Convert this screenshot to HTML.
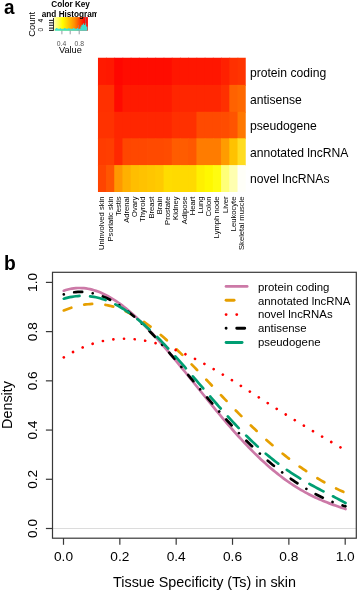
<!DOCTYPE html><html><head><meta charset="utf-8"><style>html,body{margin:0;padding:0;background:#fff;}svg{display:block;will-change:transform;}text{font-family:"Liberation Sans", sans-serif;}</style></head><body>
<svg width="358" height="591" viewBox="0 0 358 591">
<rect width="358" height="591" fill="#fff"/>
<text transform="translate(3.9,14.4) scale(0.9,1)" font-size="21" font-weight="bold" fill="#000">a</text>
<text transform="translate(3.9,270) scale(0.92,1)" font-size="21" font-weight="bold" fill="#000">b</text>
<defs><clipPath id="hmclip"><rect x="97.80" y="57.50" width="147.95" height="134.50"/></clipPath></defs><g clip-path="url(#hmclip)">
<rect x="97.80" y="57.50" width="9.02" height="28.20" fill="#FF1A00"/>
<rect x="106.02" y="57.50" width="9.02" height="28.20" fill="#FF1800"/>
<rect x="114.24" y="57.50" width="9.02" height="28.20" fill="#FF0600"/>
<rect x="122.46" y="57.50" width="9.02" height="28.20" fill="#FF0C00"/>
<rect x="130.68" y="57.50" width="9.02" height="28.20" fill="#FF0C00"/>
<rect x="138.90" y="57.50" width="9.02" height="28.20" fill="#FF0C00"/>
<rect x="147.12" y="57.50" width="9.02" height="28.20" fill="#FF0C00"/>
<rect x="155.34" y="57.50" width="9.02" height="28.20" fill="#FF0C00"/>
<rect x="163.56" y="57.50" width="9.02" height="28.20" fill="#FF0C00"/>
<rect x="171.77" y="57.50" width="9.02" height="28.20" fill="#FF1600"/>
<rect x="179.99" y="57.50" width="9.02" height="28.20" fill="#FF1600"/>
<rect x="188.21" y="57.50" width="9.02" height="28.20" fill="#FF1600"/>
<rect x="196.43" y="57.50" width="9.02" height="28.20" fill="#FF1600"/>
<rect x="204.65" y="57.50" width="9.02" height="28.20" fill="#FF1600"/>
<rect x="212.87" y="57.50" width="9.02" height="28.20" fill="#FF1600"/>
<rect x="221.09" y="57.50" width="9.02" height="28.20" fill="#FF2000"/>
<rect x="229.31" y="57.50" width="9.02" height="28.20" fill="#FF3000"/>
<rect x="237.53" y="57.50" width="9.02" height="28.20" fill="#FF3400"/>
<rect x="97.80" y="84.90" width="9.02" height="27.70" fill="#FF3000"/>
<rect x="106.02" y="84.90" width="9.02" height="27.70" fill="#FF3000"/>
<rect x="114.24" y="84.90" width="9.02" height="27.70" fill="#FF0A00"/>
<rect x="122.46" y="84.90" width="9.02" height="27.70" fill="#FF1A00"/>
<rect x="130.68" y="84.90" width="9.02" height="27.70" fill="#FF1A00"/>
<rect x="138.90" y="84.90" width="9.02" height="27.70" fill="#FF1A00"/>
<rect x="147.12" y="84.90" width="9.02" height="27.70" fill="#FF1A00"/>
<rect x="155.34" y="84.90" width="9.02" height="27.70" fill="#FF1A00"/>
<rect x="163.56" y="84.90" width="9.02" height="27.70" fill="#FF1A00"/>
<rect x="171.77" y="84.90" width="9.02" height="27.70" fill="#FF2600"/>
<rect x="179.99" y="84.90" width="9.02" height="27.70" fill="#FF2600"/>
<rect x="188.21" y="84.90" width="9.02" height="27.70" fill="#FF2600"/>
<rect x="196.43" y="84.90" width="9.02" height="27.70" fill="#FF2600"/>
<rect x="204.65" y="84.90" width="9.02" height="27.70" fill="#FF2600"/>
<rect x="212.87" y="84.90" width="9.02" height="27.70" fill="#FF2600"/>
<rect x="221.09" y="84.90" width="9.02" height="27.70" fill="#FF3000"/>
<rect x="229.31" y="84.90" width="9.02" height="27.70" fill="#FF6200"/>
<rect x="237.53" y="84.90" width="9.02" height="27.70" fill="#FF6800"/>
<rect x="97.80" y="111.80" width="9.02" height="27.30" fill="#FF3200"/>
<rect x="106.02" y="111.80" width="9.02" height="27.30" fill="#FF3200"/>
<rect x="114.24" y="111.80" width="9.02" height="27.30" fill="#FF2600"/>
<rect x="122.46" y="111.80" width="9.02" height="27.30" fill="#FF2600"/>
<rect x="130.68" y="111.80" width="9.02" height="27.30" fill="#FF2600"/>
<rect x="138.90" y="111.80" width="9.02" height="27.30" fill="#FF2600"/>
<rect x="147.12" y="111.80" width="9.02" height="27.30" fill="#FF2600"/>
<rect x="155.34" y="111.80" width="9.02" height="27.30" fill="#FF2600"/>
<rect x="163.56" y="111.80" width="9.02" height="27.30" fill="#FF2600"/>
<rect x="171.77" y="111.80" width="9.02" height="27.30" fill="#FF3000"/>
<rect x="179.99" y="111.80" width="9.02" height="27.30" fill="#FF3000"/>
<rect x="188.21" y="111.80" width="9.02" height="27.30" fill="#FF3000"/>
<rect x="196.43" y="111.80" width="9.02" height="27.30" fill="#FF4A00"/>
<rect x="204.65" y="111.80" width="9.02" height="27.30" fill="#FF4A00"/>
<rect x="212.87" y="111.80" width="9.02" height="27.30" fill="#FF4A00"/>
<rect x="221.09" y="111.80" width="9.02" height="27.30" fill="#FF4C00"/>
<rect x="229.31" y="111.80" width="9.02" height="27.30" fill="#FF5400"/>
<rect x="237.53" y="111.80" width="9.02" height="27.30" fill="#FF7800"/>
<rect x="97.80" y="138.30" width="9.02" height="27.60" fill="#FF3C00"/>
<rect x="106.02" y="138.30" width="9.02" height="27.60" fill="#FF3E00"/>
<rect x="114.24" y="138.30" width="9.02" height="27.60" fill="#FF2800"/>
<rect x="122.46" y="138.30" width="9.02" height="27.60" fill="#FF4600"/>
<rect x="130.68" y="138.30" width="9.02" height="27.60" fill="#FF4800"/>
<rect x="138.90" y="138.30" width="9.02" height="27.60" fill="#FF4800"/>
<rect x="147.12" y="138.30" width="9.02" height="27.60" fill="#FF4A00"/>
<rect x="155.34" y="138.30" width="9.02" height="27.60" fill="#FF4A00"/>
<rect x="163.56" y="138.30" width="9.02" height="27.60" fill="#FF4C00"/>
<rect x="171.77" y="138.30" width="9.02" height="27.60" fill="#FF5C00"/>
<rect x="179.99" y="138.30" width="9.02" height="27.60" fill="#FF5C00"/>
<rect x="188.21" y="138.30" width="9.02" height="27.60" fill="#FF5800"/>
<rect x="196.43" y="138.30" width="9.02" height="27.60" fill="#FF7C00"/>
<rect x="204.65" y="138.30" width="9.02" height="27.60" fill="#FF7C00"/>
<rect x="212.87" y="138.30" width="9.02" height="27.60" fill="#FF7C00"/>
<rect x="221.09" y="138.30" width="9.02" height="27.60" fill="#FF9C00"/>
<rect x="229.31" y="138.30" width="9.02" height="27.60" fill="#FFC200"/>
<rect x="237.53" y="138.30" width="9.02" height="27.60" fill="#FFDC20"/>
<rect x="97.80" y="165.10" width="9.02" height="27.70" fill="#FF4400"/>
<rect x="106.02" y="165.10" width="9.02" height="27.70" fill="#FF5600"/>
<rect x="114.24" y="165.10" width="9.02" height="27.70" fill="#FF9800"/>
<rect x="122.46" y="165.10" width="9.02" height="27.70" fill="#FFB000"/>
<rect x="130.68" y="165.10" width="9.02" height="27.70" fill="#FFBE00"/>
<rect x="138.90" y="165.10" width="9.02" height="27.70" fill="#FFC200"/>
<rect x="147.12" y="165.10" width="9.02" height="27.70" fill="#FFC600"/>
<rect x="155.34" y="165.10" width="9.02" height="27.70" fill="#FFCA00"/>
<rect x="163.56" y="165.10" width="9.02" height="27.70" fill="#FFDC00"/>
<rect x="171.77" y="165.10" width="9.02" height="27.70" fill="#FFDA00"/>
<rect x="179.99" y="165.10" width="9.02" height="27.70" fill="#FFDA00"/>
<rect x="188.21" y="165.10" width="9.02" height="27.70" fill="#FFDA00"/>
<rect x="196.43" y="165.10" width="9.02" height="27.70" fill="#FFF000"/>
<rect x="204.65" y="165.10" width="9.02" height="27.70" fill="#FFF800"/>
<rect x="212.87" y="165.10" width="9.02" height="27.70" fill="#FFFC10"/>
<rect x="221.09" y="165.10" width="9.02" height="27.70" fill="#FFFF78"/>
<rect x="229.31" y="165.10" width="9.02" height="27.70" fill="#FFFFB0"/>
<rect x="237.53" y="165.10" width="9.02" height="27.70" fill="#FFFFF8"/>
</g>
<text x="249.9" y="72.60" font-size="12.15" fill="#000" dominant-baseline="central">protein coding</text>
<text x="249.9" y="99.75" font-size="12.15" fill="#000" dominant-baseline="central">antisense</text>
<text x="249.9" y="126.45" font-size="12.15" fill="#000" dominant-baseline="central">pseudogene</text>
<text x="249.9" y="152.70" font-size="12.15" fill="#000" dominant-baseline="central">annotated lncRNA</text>
<text x="249.9" y="179.05" font-size="12.15" fill="#000" dominant-baseline="central">novel lncRNAs</text>
<text transform="translate(101.81,196.5) rotate(-90)" font-size="7.65" fill="#000" text-anchor="end" dominant-baseline="central">Uninvolved skin</text>
<text transform="translate(110.03,196.5) rotate(-90)" font-size="7.65" fill="#000" text-anchor="end" dominant-baseline="central">Psoriatic skin</text>
<text transform="translate(118.25,196.5) rotate(-90)" font-size="7.65" fill="#000" text-anchor="end" dominant-baseline="central">Testis</text>
<text transform="translate(126.47,196.5) rotate(-90)" font-size="7.65" fill="#000" text-anchor="end" dominant-baseline="central">Adrenal</text>
<text transform="translate(134.69,196.5) rotate(-90)" font-size="7.65" fill="#000" text-anchor="end" dominant-baseline="central">Ovary</text>
<text transform="translate(142.91,196.5) rotate(-90)" font-size="7.65" fill="#000" text-anchor="end" dominant-baseline="central">Thyroid</text>
<text transform="translate(151.13,196.5) rotate(-90)" font-size="7.65" fill="#000" text-anchor="end" dominant-baseline="central">Breast</text>
<text transform="translate(159.35,196.5) rotate(-90)" font-size="7.65" fill="#000" text-anchor="end" dominant-baseline="central">Brain</text>
<text transform="translate(167.57,196.5) rotate(-90)" font-size="7.65" fill="#000" text-anchor="end" dominant-baseline="central">Prostate</text>
<text transform="translate(175.78,196.5) rotate(-90)" font-size="7.65" fill="#000" text-anchor="end" dominant-baseline="central">Kidney</text>
<text transform="translate(184.00,196.5) rotate(-90)" font-size="7.65" fill="#000" text-anchor="end" dominant-baseline="central">Adipose</text>
<text transform="translate(192.22,196.5) rotate(-90)" font-size="7.65" fill="#000" text-anchor="end" dominant-baseline="central">Heart</text>
<text transform="translate(200.44,196.5) rotate(-90)" font-size="7.65" fill="#000" text-anchor="end" dominant-baseline="central">Lung</text>
<text transform="translate(208.66,196.5) rotate(-90)" font-size="7.65" fill="#000" text-anchor="end" dominant-baseline="central">Colon</text>
<text transform="translate(216.88,196.5) rotate(-90)" font-size="7.65" fill="#000" text-anchor="end" dominant-baseline="central">Lymph node</text>
<text transform="translate(225.10,196.5) rotate(-90)" font-size="7.65" fill="#000" text-anchor="end" dominant-baseline="central">Liver</text>
<text transform="translate(233.32,196.5) rotate(-90)" font-size="7.65" fill="#000" text-anchor="end" dominant-baseline="central">Leukocyte</text>
<text transform="translate(241.54,196.5) rotate(-90)" font-size="7.65" fill="#000" text-anchor="end" dominant-baseline="central">Skeletal muscle</text>
<defs><linearGradient id="ck" x1="0" x2="1" y1="0" y2="0"><stop offset="0" stop-color="#FFFFB0"/><stop offset="0.25" stop-color="#FFFF00"/><stop offset="0.6" stop-color="#FF9000"/><stop offset="0.88" stop-color="#FF1000"/><stop offset="1" stop-color="#FF0000"/></linearGradient></defs>
<rect x="54" y="17.1" width="33.9" height="13.6" fill="url(#ck)"/>
<polygon points="54.8,30.7 54.8,28.7 56,28.7 56,28 57.5,28 57.5,28.7 60,28.7 60,28.2 61,28.2 61,28.7 64,28.7 64,28 65.5,28 65.5,28.7 68,28.7 68,28.2 69.5,28.2 69.5,28.7 73,28.7 73,28.1 74.5,28.1 74.5,28.7 77,28.7 77,27.9 78,27.9 78,28.7 80.5,28.7 80.5,26.4 81.5,26.4 81.5,24.7 83,24.7 83,23.6 84.2,23.6 84.2,24.9 85.2,24.9 85.2,23.2 86.2,23.2 86.2,26.4 87.4,26.4 87.4,30.7" fill="#40E0D0"/>
<line x1="85.7" y1="17.3" x2="85.7" y2="23" stroke="#7090a0" stroke-width="0.6"/>
<line x1="78.4" y1="25" x2="78.4" y2="30.2" stroke="#8090b0" stroke-width="0.5"/>
<line x1="49" y1="20.4" x2="53.6" y2="20.4" stroke="#222" stroke-width="1.1"/>
<line x1="49" y1="22.8" x2="53.6" y2="22.8" stroke="#222" stroke-width="1.1"/>
<line x1="49" y1="25.3" x2="53.6" y2="25.3" stroke="#222" stroke-width="1.1"/>
<line x1="49" y1="28.1" x2="53.6" y2="28.1" stroke="#222" stroke-width="1.1"/>
<line x1="49" y1="30.4" x2="53.6" y2="30.4" stroke="#222" stroke-width="1.1"/>
<line x1="53.5" y1="18" x2="53.5" y2="30.6" stroke="#222" stroke-width="0.9"/>
<line x1="61.9" y1="30.6" x2="61.9" y2="34.3" stroke="#8a8f9a" stroke-width="0.9"/>
<line x1="70.2" y1="30.6" x2="70.2" y2="34.3" stroke="#8a8f9a" stroke-width="0.9"/>
<line x1="79.2" y1="30.6" x2="79.2" y2="34.3" stroke="#8a8f9a" stroke-width="0.9"/>
<text x="61.5" y="43" font-size="6.8" fill="#555" text-anchor="middle" dominant-baseline="central">0.4</text>
<text x="79.2" y="43" font-size="6.8" fill="#555" text-anchor="middle" dominant-baseline="central">0.8</text>
<text x="70.4" y="50.4" font-size="9.2" fill="#000" text-anchor="middle" dominant-baseline="central">Value</text>
<text transform="translate(31.8,24.3) rotate(-90)" font-size="9.4" fill="#000" text-anchor="middle" dominant-baseline="central">Count</text>
<text transform="translate(40.8,29.6) rotate(-90)" font-size="6.8" fill="#000" text-anchor="middle" dominant-baseline="central">0</text>
<text transform="translate(40.8,20.7) rotate(-90)" font-size="6.8" fill="#000" text-anchor="middle" dominant-baseline="central">4</text>
<svg x="30" y="0" width="66.6" height="18.5" overflow="hidden">
<text x="40.6" y="7.3" font-size="8.2" font-weight="bold" fill="#000" text-anchor="middle">Color Key</text>
<text x="11.8" y="16.9" font-size="8.2" font-weight="bold" fill="#000">and Histogram</text>
</svg>
<line x1="53" y1="528.5" x2="356" y2="528.5" stroke="#dcdcdc" stroke-width="1"/>
<rect x="52.5" y="272.3" width="303.8" height="265.9" fill="none" stroke="#383838" stroke-width="1.2"/>
<line x1="63.50" y1="538" x2="63.50" y2="544.8" stroke="#383838" stroke-width="1.2"/>
<text x="63.50" y="561.3" font-size="13.7" fill="#000" text-anchor="middle">0.0</text>
<line x1="45.9" y1="528.50" x2="52.5" y2="528.50" stroke="#383838" stroke-width="1.2"/>
<text transform="translate(36.8,528.50) rotate(-90)" font-size="13.7" fill="#000" text-anchor="middle">0.0</text>
<line x1="119.84" y1="538" x2="119.84" y2="544.8" stroke="#383838" stroke-width="1.2"/>
<text x="119.84" y="561.3" font-size="13.7" fill="#000" text-anchor="middle">0.2</text>
<line x1="45.9" y1="479.28" x2="52.5" y2="479.28" stroke="#383838" stroke-width="1.2"/>
<text transform="translate(36.8,479.28) rotate(-90)" font-size="13.7" fill="#000" text-anchor="middle">0.2</text>
<line x1="176.18" y1="538" x2="176.18" y2="544.8" stroke="#383838" stroke-width="1.2"/>
<text x="176.18" y="561.3" font-size="13.7" fill="#000" text-anchor="middle">0.4</text>
<line x1="45.9" y1="430.06" x2="52.5" y2="430.06" stroke="#383838" stroke-width="1.2"/>
<text transform="translate(36.8,430.06) rotate(-90)" font-size="13.7" fill="#000" text-anchor="middle">0.4</text>
<line x1="232.52" y1="538" x2="232.52" y2="544.8" stroke="#383838" stroke-width="1.2"/>
<text x="232.52" y="561.3" font-size="13.7" fill="#000" text-anchor="middle">0.6</text>
<line x1="45.9" y1="380.84" x2="52.5" y2="380.84" stroke="#383838" stroke-width="1.2"/>
<text transform="translate(36.8,380.84) rotate(-90)" font-size="13.7" fill="#000" text-anchor="middle">0.6</text>
<line x1="288.86" y1="538" x2="288.86" y2="544.8" stroke="#383838" stroke-width="1.2"/>
<text x="288.86" y="561.3" font-size="13.7" fill="#000" text-anchor="middle">0.8</text>
<line x1="45.9" y1="331.62" x2="52.5" y2="331.62" stroke="#383838" stroke-width="1.2"/>
<text transform="translate(36.8,331.62) rotate(-90)" font-size="13.7" fill="#000" text-anchor="middle">0.8</text>
<line x1="345.20" y1="538" x2="345.20" y2="544.8" stroke="#383838" stroke-width="1.2"/>
<text x="345.20" y="561.3" font-size="13.7" fill="#000" text-anchor="middle">1.0</text>
<line x1="45.9" y1="282.40" x2="52.5" y2="282.40" stroke="#383838" stroke-width="1.2"/>
<text transform="translate(36.8,282.40) rotate(-90)" font-size="13.7" fill="#000" text-anchor="middle">1.0</text>
<text x="204.5" y="587.3" font-size="14.35" fill="#000" text-anchor="middle">Tissue Specificity (Ts) in skin</text>
<text transform="translate(11.7,405) rotate(-90)" font-size="14.4" fill="#000" text-anchor="middle">Density</text>
<g transform="translate(0.3,0.1)">
<path d="M63.50,310.37 L65.51,309.58 L67.52,308.83 L69.54,308.12 L71.55,307.47 L73.56,306.86 L75.57,306.30 L77.58,305.80 L79.60,305.35 L81.61,304.96 L83.62,304.63 L85.63,304.35 L87.65,304.13 L89.66,303.97 L91.67,303.87 L93.68,303.83 L95.69,303.85 L97.71,303.93 L99.72,304.08 L101.73,304.28 L103.74,304.55 L105.76,304.88 L107.77,305.26 L109.78,305.71 L111.79,306.22 L113.80,306.79 L115.82,307.42 L117.83,308.11 L119.84,308.85 L121.85,309.66 L123.86,310.51 L125.88,311.43 L127.89,312.40 L129.90,313.42 L131.91,314.50 L133.93,315.63 L135.94,316.81 L137.95,318.04 L139.96,319.32 L141.97,320.64 L143.99,322.01 L146.00,323.43 L148.01,324.89 L150.02,326.39 L152.03,327.94 L154.05,329.52 L156.06,331.14 L158.07,332.80 L160.08,334.49 L162.09,336.22 L164.11,337.98 L166.12,339.77 L168.13,341.59 L170.14,343.44 L172.16,345.31 L174.17,347.21 L176.18,349.14 L178.19,351.09 L180.20,353.06 L182.22,355.04 L184.23,357.05 L186.24,359.08 L188.25,361.12 L190.26,363.17 L192.28,365.24 L194.29,367.31 L196.30,369.40 L198.31,371.50 L200.33,373.60 L202.34,375.71 L204.35,377.83 L206.36,379.95 L208.37,382.07 L210.39,384.19 L212.40,386.32 L214.41,388.44 L216.42,390.56 L218.43,392.68 L220.45,394.79 L222.46,396.90 L224.47,399.01 L226.48,401.10 L228.50,403.19 L230.51,405.27 L232.52,407.34 L234.53,409.40 L236.54,411.44 L238.56,413.48 L240.57,415.50 L242.58,417.51 L244.59,419.50 L246.60,421.48 L248.62,423.45 L250.63,425.39 L252.64,427.32 L254.65,429.24 L256.67,431.13 L258.68,433.01 L260.69,434.87 L262.70,436.71 L264.71,438.53 L266.73,440.33 L268.74,442.10 L270.75,443.86 L272.76,445.60 L274.77,447.32 L276.79,449.01 L278.80,450.68 L280.81,452.33 L282.82,453.96 L284.84,455.57 L286.85,457.15 L288.86,458.71 L290.87,460.25 L292.88,461.76 L294.90,463.25 L296.91,464.72 L298.92,466.17 L300.93,467.59 L302.94,468.99 L304.96,470.36 L306.97,471.71 L308.98,473.04 L310.99,474.34 L313.01,475.62 L315.02,476.87 L317.03,478.10 L319.04,479.31 L321.05,480.49 L323.07,481.65 L325.08,482.78 L327.09,483.89 L329.10,484.97 L331.11,486.03 L333.13,487.06 L335.14,488.07 L337.15,489.05 L339.16,490.00 L341.18,490.92 L343.19,491.82 L345.20,492.69" fill="none" stroke="#E69F00" stroke-width="2.70" stroke-linecap="round" stroke-dasharray="7.980 13.300"/>
<path d="M63.50,357.20 L65.51,355.97 L67.52,354.79 L69.54,353.65 L71.55,352.55 L73.56,351.49 L75.57,350.47 L77.58,349.50 L79.60,348.56 L81.61,347.67 L83.62,346.82 L85.63,346.02 L87.65,345.25 L89.66,344.53 L91.67,343.85 L93.68,343.22 L95.69,342.62 L97.71,342.07 L99.72,341.56 L101.73,341.09 L103.74,340.66 L105.76,340.28 L107.77,339.94 L109.78,339.63 L111.79,339.37 L113.80,339.15 L115.82,338.97 L117.83,338.83 L119.84,338.73 L121.85,338.67 L123.86,338.64 L125.88,338.66 L127.89,338.72 L129.90,338.81 L131.91,338.94 L133.93,339.10 L135.94,339.31 L137.95,339.54 L139.96,339.82 L141.97,340.13 L143.99,340.47 L146.00,340.85 L148.01,341.26 L150.02,341.71 L152.03,342.18 L154.05,342.69 L156.06,343.23 L158.07,343.80 L160.08,344.40 L162.09,345.03 L164.11,345.69 L166.12,346.38 L168.13,347.10 L170.14,347.84 L172.16,348.61 L174.17,349.40 L176.18,350.22 L178.19,351.06 L180.20,351.93 L182.22,352.82 L184.23,353.73 L186.24,354.67 L188.25,355.62 L190.26,356.60 L192.28,357.59 L194.29,358.61 L196.30,359.64 L198.31,360.69 L200.33,361.76 L202.34,362.85 L204.35,363.95 L206.36,365.06 L208.37,366.19 L210.39,367.34 L212.40,368.49 L214.41,369.66 L216.42,370.85 L218.43,372.04 L220.45,373.24 L222.46,374.45 L224.47,375.68 L226.48,376.91 L228.50,378.15 L230.51,379.39 L232.52,380.65 L234.53,381.91 L236.54,383.17 L238.56,384.44 L240.57,385.72 L242.58,387.00 L244.59,388.28 L246.60,389.57 L248.62,390.86 L250.63,392.15 L252.64,393.44 L254.65,394.74 L256.67,396.03 L258.68,397.33 L260.69,398.62 L262.70,399.91 L264.71,401.21 L266.73,402.50 L268.74,403.79 L270.75,405.08 L272.76,406.36 L274.77,407.65 L276.79,408.93 L278.80,410.21 L280.81,411.48 L282.82,412.75 L284.84,414.02 L286.85,415.28 L288.86,416.54 L290.87,417.79 L292.88,419.04 L294.90,420.29 L296.91,421.53 L298.92,422.76 L300.93,424.00 L302.94,425.22 L304.96,426.45 L306.97,427.67 L308.98,428.88 L310.99,430.09 L313.01,431.30 L315.02,432.50 L317.03,433.70 L319.04,434.89 L321.05,436.08 L323.07,437.27 L325.08,438.46 L327.09,439.65 L329.10,440.83 L331.11,442.01 L333.13,443.19 L335.14,444.37 L337.15,445.55 L339.16,446.73 L341.18,447.91 L343.19,449.10 L345.20,450.28" fill="none" stroke="#FF0000" stroke-width="2.70" stroke-linecap="round" stroke-dasharray="0.003 10.640"/>
<path d="M63.50,290.60 L65.51,289.93 L67.52,289.35 L69.54,288.87 L71.55,288.49 L73.56,288.20 L75.57,288.00 L77.58,287.89 L79.60,287.88 L81.61,287.95 L83.62,288.10 L85.63,288.34 L87.65,288.67 L89.66,289.07 L91.67,289.56 L93.68,290.12 L95.69,290.76 L97.71,291.47 L99.72,292.26 L101.73,293.12 L103.74,294.05 L105.76,295.05 L107.77,296.11 L109.78,297.24 L111.79,298.44 L113.80,299.70 L115.82,301.02 L117.83,302.40 L119.84,303.83 L121.85,305.33 L123.86,306.87 L125.88,308.48 L127.89,310.13 L129.90,311.83 L131.91,313.58 L133.93,315.38 L135.94,317.23 L137.95,319.12 L139.96,321.05 L141.97,323.02 L143.99,325.03 L146.00,327.08 L148.01,329.17 L150.02,331.29 L152.03,333.44 L154.05,335.63 L156.06,337.84 L158.07,340.08 L160.08,342.36 L162.09,344.65 L164.11,346.97 L166.12,349.32 L168.13,351.68 L170.14,354.06 L172.16,356.47 L174.17,358.88 L176.18,361.32 L178.19,363.76 L180.20,366.22 L182.22,368.69 L184.23,371.17 L186.24,373.66 L188.25,376.15 L190.26,378.65 L192.28,381.15 L194.29,383.66 L196.30,386.16 L198.31,388.67 L200.33,391.17 L202.34,393.67 L204.35,396.16 L206.36,398.65 L208.37,401.13 L210.39,403.60 L212.40,406.07 L214.41,408.52 L216.42,410.96 L218.43,413.38 L220.45,415.79 L222.46,418.19 L224.47,420.57 L226.48,422.93 L228.50,425.27 L230.51,427.59 L232.52,429.89 L234.53,432.17 L236.54,434.42 L238.56,436.65 L240.57,438.85 L242.58,441.03 L244.59,443.18 L246.60,445.30 L248.62,447.40 L250.63,449.46 L252.64,451.49 L254.65,453.50 L256.67,455.47 L258.68,457.40 L260.69,459.31 L262.70,461.18 L264.71,463.02 L266.73,464.82 L268.74,466.59 L270.75,468.32 L272.76,470.02 L274.77,471.68 L276.79,473.31 L278.80,474.90 L280.81,476.45 L282.82,477.96 L284.84,479.44 L286.85,480.88 L288.86,482.29 L290.87,483.65 L292.88,484.98 L294.90,486.28 L296.91,487.54 L298.92,488.76 L300.93,489.95 L302.94,491.10 L304.96,492.22 L306.97,493.31 L308.98,494.36 L310.99,495.38 L313.01,496.37 L315.02,497.33 L317.03,498.26 L319.04,499.16 L321.05,500.03 L323.07,500.88 L325.08,501.70 L327.09,502.50 L329.10,503.28 L331.11,504.03 L333.13,504.77 L335.14,505.49 L337.15,506.19 L339.16,506.89 L341.18,507.57 L343.19,508.24 L345.20,508.90" fill="none" stroke="#CC79A7" stroke-width="2.70" stroke-linecap="round"/>
<path d="M63.50,294.27 L65.51,293.72 L67.52,293.24 L69.54,292.82 L71.55,292.48 L73.56,292.20 L75.57,292.00 L77.58,291.87 L79.60,291.81 L81.61,291.83 L83.62,291.92 L85.63,292.08 L87.65,292.32 L89.66,292.63 L91.67,293.01 L93.68,293.47 L95.69,293.99 L97.71,294.59 L99.72,295.26 L101.73,296.00 L103.74,296.82 L105.76,297.69 L107.77,298.64 L109.78,299.66 L111.79,300.74 L113.80,301.88 L115.82,303.09 L117.83,304.36 L119.84,305.69 L121.85,307.07 L123.86,308.52 L125.88,310.02 L127.89,311.58 L129.90,313.19 L131.91,314.85 L133.93,316.56 L135.94,318.32 L137.95,320.13 L139.96,321.98 L141.97,323.87 L143.99,325.81 L146.00,327.78 L148.01,329.80 L150.02,331.85 L152.03,333.93 L154.05,336.04 L156.06,338.19 L158.07,340.36 L160.08,342.57 L162.09,344.79 L164.11,347.04 L166.12,349.32 L168.13,351.61 L170.14,353.92 L172.16,356.25 L174.17,358.59 L176.18,360.95 L178.19,363.32 L180.20,365.70 L182.22,368.08 L184.23,370.48 L186.24,372.88 L188.25,375.28 L190.26,377.69 L192.28,380.09 L194.29,382.50 L196.30,384.90 L198.31,387.31 L200.33,389.70 L202.34,392.09 L204.35,394.48 L206.36,396.85 L208.37,399.22 L210.39,401.58 L212.40,403.92 L214.41,406.26 L216.42,408.57 L218.43,410.88 L220.45,413.17 L222.46,415.44 L224.47,417.69 L226.48,419.93 L228.50,422.15 L230.51,424.35 L232.52,426.53 L234.53,428.68 L236.54,430.82 L238.56,432.93 L240.57,435.02 L242.58,437.09 L244.59,439.14 L246.60,441.16 L248.62,443.15 L250.63,445.12 L252.64,447.07 L254.65,448.99 L256.67,450.88 L258.68,452.75 L260.69,454.59 L262.70,456.40 L264.71,458.19 L266.73,459.95 L268.74,461.69 L270.75,463.39 L272.76,465.07 L274.77,466.72 L276.79,468.35 L278.80,469.94 L280.81,471.51 L282.82,473.05 L284.84,474.56 L286.85,476.05 L288.86,477.50 L290.87,478.93 L292.88,480.33 L294.90,481.71 L296.91,483.05 L298.92,484.37 L300.93,485.65 L302.94,486.91 L304.96,488.14 L306.97,489.34 L308.98,490.52 L310.99,491.66 L313.01,492.77 L315.02,493.86 L317.03,494.91 L319.04,495.93 L321.05,496.92 L323.07,497.88 L325.08,498.81 L327.09,499.70 L329.10,500.57 L331.11,501.39 L333.13,502.18 L335.14,502.94 L337.15,503.66 L339.16,504.34 L341.18,504.98 L343.19,505.59 L345.20,506.15" fill="none" stroke="#000" stroke-width="2.70" stroke-linecap="round" stroke-dasharray="0.003 10.640 7.980 10.640"/>
<path d="M63.50,298.58 L65.51,298.03 L67.52,297.53 L69.54,297.09 L71.55,296.71 L73.56,296.40 L75.57,296.15 L77.58,295.96 L79.60,295.84 L81.61,295.78 L83.62,295.79 L85.63,295.86 L87.65,296.00 L89.66,296.20 L91.67,296.47 L93.68,296.80 L95.69,297.20 L97.71,297.66 L99.72,298.19 L101.73,298.79 L103.74,299.44 L105.76,300.16 L107.77,300.94 L109.78,301.79 L111.79,302.69 L113.80,303.66 L115.82,304.69 L117.83,305.77 L119.84,306.92 L121.85,308.12 L123.86,309.37 L125.88,310.68 L127.89,312.05 L129.90,313.46 L131.91,314.93 L133.93,316.45 L135.94,318.02 L137.95,319.64 L139.96,321.30 L141.97,323.01 L143.99,324.76 L146.00,326.55 L148.01,328.39 L150.02,330.26 L152.03,332.17 L154.05,334.12 L156.06,336.10 L158.07,338.11 L160.08,340.16 L162.09,342.24 L164.11,344.34 L166.12,346.48 L168.13,348.63 L170.14,350.81 L172.16,353.02 L174.17,355.24 L176.18,357.48 L178.19,359.75 L180.20,362.02 L182.22,364.31 L184.23,366.61 L186.24,368.93 L188.25,371.25 L190.26,373.58 L192.28,375.92 L194.29,378.26 L196.30,380.60 L198.31,382.95 L200.33,385.30 L202.34,387.64 L204.35,389.98 L206.36,392.32 L208.37,394.65 L210.39,396.98 L212.40,399.29 L214.41,401.60 L216.42,403.90 L218.43,406.18 L220.45,408.45 L222.46,410.70 L224.47,412.94 L226.48,415.16 L228.50,417.37 L230.51,419.55 L232.52,421.72 L234.53,423.86 L236.54,425.98 L238.56,428.08 L240.57,430.15 L242.58,432.20 L244.59,434.22 L246.60,436.22 L248.62,438.19 L250.63,440.13 L252.64,442.04 L254.65,443.93 L256.67,445.78 L258.68,447.61 L260.69,449.41 L262.70,451.17 L264.71,452.91 L266.73,454.62 L268.74,456.29 L270.75,457.94 L272.76,459.55 L274.77,461.13 L276.79,462.68 L278.80,464.21 L280.81,465.70 L282.82,467.16 L284.84,468.59 L286.85,470.00 L288.86,471.37 L290.87,472.72 L292.88,474.04 L294.90,475.34 L296.91,476.60 L298.92,477.85 L300.93,479.07 L302.94,480.27 L304.96,481.44 L306.97,482.60 L308.98,483.74 L310.99,484.86 L313.01,485.96 L315.02,487.05 L317.03,488.12 L319.04,489.19 L321.05,490.24 L323.07,491.29 L325.08,492.33 L327.09,493.37 L329.10,494.40 L331.11,495.44 L333.13,496.47 L335.14,497.52 L337.15,498.57 L339.16,499.63 L341.18,500.70 L343.19,501.79 L345.20,502.89" fill="none" stroke="#009E73" stroke-width="2.70" stroke-linecap="round" stroke-dasharray="15.960 10.640"/>
</g>
<path d="M226.10,286.40 L247.10,286.40" fill="none" stroke="#CC79A7" stroke-width="2.90" stroke-linecap="round"/>
<path d="M226.10,300.30 L247.10,300.30" fill="none" stroke="#E69F00" stroke-width="2.90" stroke-linecap="round" stroke-dasharray="7.980 13.300"/>
<path d="M226.10,314.60 L247.10,314.60" fill="none" stroke="#FF0000" stroke-width="2.90" stroke-linecap="round" stroke-dasharray="0.003 10.640"/>
<path d="M226.10,328.30 L247.10,328.30" fill="none" stroke="#000" stroke-width="2.90" stroke-linecap="round" stroke-dasharray="0.003 10.640 7.980 10.640"/>
<path d="M226.10,342.50 L247.10,342.50" fill="none" stroke="#009E73" stroke-width="2.90" stroke-linecap="round" stroke-dasharray="15.960 10.640"/>
<text x="257.9" y="286.90" font-size="11.4" fill="#000" dominant-baseline="central">protein coding</text>
<text x="257.9" y="300.65" font-size="11.4" fill="#000" dominant-baseline="central">annotated lncRNA</text>
<text x="257.9" y="314.40" font-size="11.4" fill="#000" dominant-baseline="central">novel lncRNAs</text>
<text x="257.9" y="328.15" font-size="11.4" fill="#000" dominant-baseline="central">antisense</text>
<text x="257.9" y="341.90" font-size="11.4" fill="#000" dominant-baseline="central">pseudogene</text>
</svg></body></html>
